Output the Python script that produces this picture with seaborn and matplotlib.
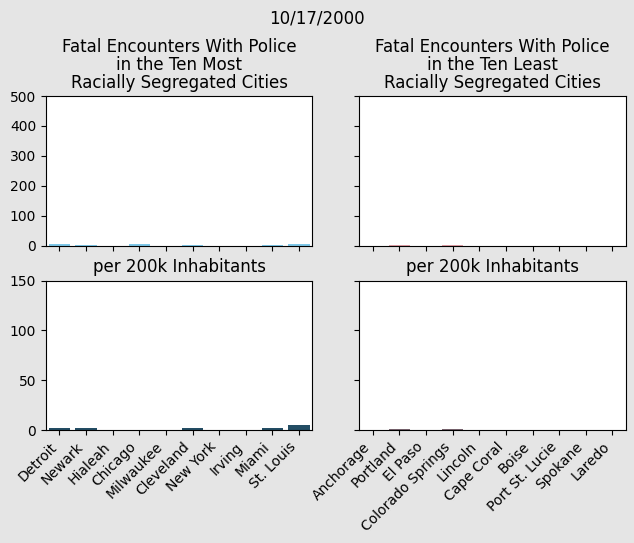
import pandas as pd
import numpy as np
import matplotlib
matplotlib.use('Agg')
import matplotlib.pyplot as plt
import seaborn as sns

# 인종 분리 상위 / 하위 10개 도시
most_cities = ['Detroit', 'Newark', 'Hialeah', 'Chicago', 'Milwaukee',
               'Cleveland', 'New York', 'Irving', 'Miami', 'St. Louis']
least_cities = ['Anchorage', 'Portland', 'El Paso', 'Colorado Springs', 'Lincoln',
                'Cape Coral', 'Boise', 'Port St. Lucie', 'Spokane', 'Laredo']

# 사망자 수 (2000/10/17 까지 누적)
most_deaths = [6, 0.5, 0, 6, 0, 3, 0, 0, 3, 6]
least_deaths = [0, 0.3, 0, 0.3, 0, 0, 0, 0, 0, 0]

# 인구 20만명 당
most_per200k = [2, 2, 0, 0, 0, 2, 0, 0, 2, 5]
least_per200k = [0, 0.6, 0, 0.6, 0, 0, 0, 0, 0, 0]

df_most = pd.DataFrame({'city': most_cities, 'deaths': most_deaths, 'per200k': most_per200k})
df_least = pd.DataFrame({'city': least_cities, 'deaths': least_deaths, 'per200k': least_per200k})

fig, axes = plt.subplots(2, 2, figsize=(6.34, 5.43), dpi=100, sharex='col', sharey='row')
fig.set_facecolor('#e5e5e5')
fig.subplots_adjust(left=0.0726, right=0.987, top=0.823, bottom=0.208,
                    wspace=0.176, hspace=0.235)

sns.barplot(data=df_most, x='city', y='deaths', color='#7ec8e9', saturation=1, ax=axes[0, 0])
sns.barplot(data=df_least, x='city', y='deaths', color='#e3a0a8', saturation=1, ax=axes[0, 1])
sns.barplot(data=df_most, x='city', y='per200k', color='#234d64', saturation=1, ax=axes[1, 0])
sns.barplot(data=df_least, x='city', y='per200k', color='#7a6470', saturation=1, ax=axes[1, 1])

axes[0, 0].set_ylim(0, 500)
axes[0, 0].set_yticks([0, 100, 200, 300, 400, 500])
axes[1, 0].set_ylim(0, 150)
axes[1, 0].set_yticks([0, 50, 100, 150])

axes[0, 0].set_title('Fatal Encounters With Police\nin the Ten Most\nRacially Segregated Cities',
                     linespacing=1.0)
axes[0, 1].set_title('Fatal Encounters With Police\nin the Ten Least\nRacially Segregated Cities',
                     linespacing=1.0)
axes[1, 0].set_title('per 200k Inhabitants')
axes[1, 1].set_title('per 200k Inhabitants')

for ax in axes.flat:
    ax.set_xlabel('')
    ax.set_ylabel('')
for ax in axes[1]:
    plt.setp(ax.get_xticklabels(), rotation=45, ha='right')

fig.suptitle('10/17/2000', y=0.982)
plt.savefig('out.png', facecolor=fig.get_facecolor())
